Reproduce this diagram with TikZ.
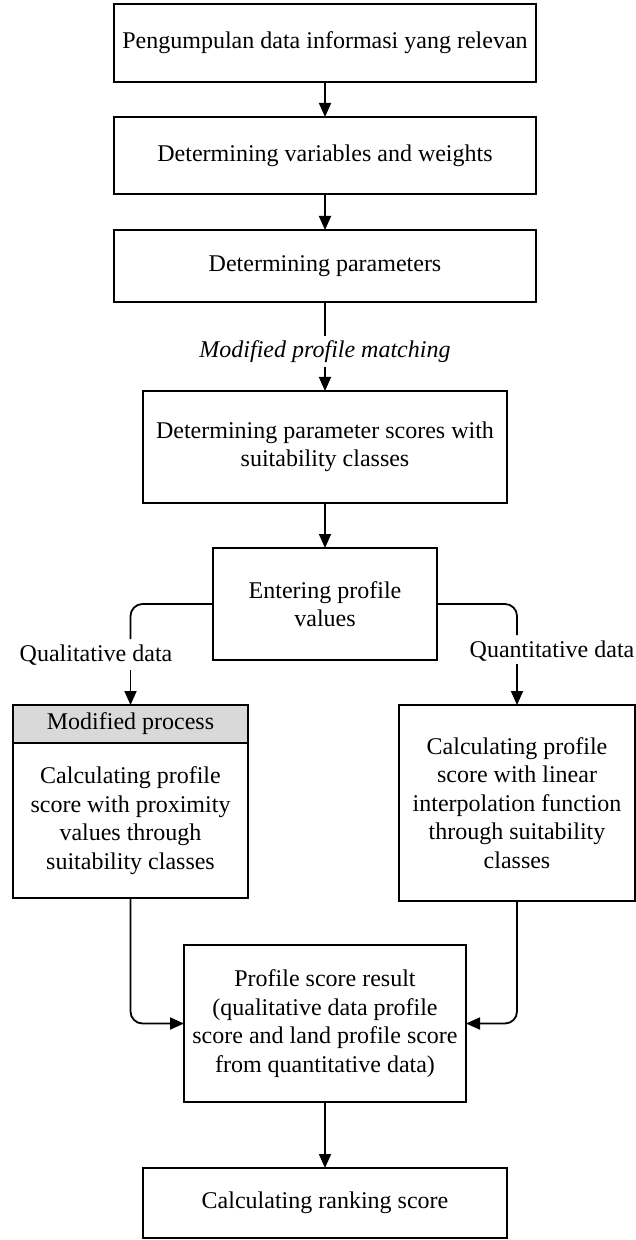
\documentclass[tikz,border=0pt]{standalone}
\usepackage{fontspec}
\setmainfont{Liberation Serif}
\usetikzlibrary{arrows.meta}
\definecolor{hdrgray}{HTML}{D9D9D9}
\tikzset{
  box/.style={draw, line width=0.8pt, inner sep=0pt, outer sep=0pt, align=center,
    font=\fontsize{12}{14.25}\selectfont},
  lbl/.style={inner sep=0pt, font=\fontsize{12}{14.25}\selectfont},
  conn/.style={line width=0.9pt},
  arr/.style={line width=0.9pt, -{Triangle[width=6pt,length=7pt]}},
}
\begin{document}
\begin{tikzpicture}[x=0.5pt,y=-0.5pt]
\useasboundingbox (0,0) rectangle (636,1240);
\node[box, minimum width=211pt, minimum height=39pt] (b1) at (325,43) {Pengumpulan data informasi yang relevan};
\node[box, minimum width=211pt, minimum height=38.5pt] (b2) at (325,155.5) {Determining variables and weights};
\node[box, minimum width=211pt, minimum height=36pt] (b3) at (325,266) {Determining parameters};
\node[lbl, font=\fontsize{12}{14.25}\selectfont\itshape] (mpm) at (325,352) {Modified profile matching};
\coordinate (m1) at (325,336);
\coordinate (m2) at (325,367);
\node[box, minimum width=182pt, minimum height=56pt] (b4) at (325,447) {Determining parameter scores with\\suitability classes};
\node[box, minimum width=112pt, minimum height=56pt] (b5) at (325,604) {Entering profile\\values};
\node[lbl] (ql) at (96,655) {Qualitative data};
\node[lbl] (qt) at (552,651) {Quantitative data};
\coordinate (q1) at (130.5,639);
\coordinate (q2) at (130.5,670);
\coordinate (r1) at (517,635);
\coordinate (r2) at (517,664);
\node[box, fill=hdrgray, minimum width=117.5pt, minimum height=19pt] (hdr) at (130.5,724) {Modified process};
\node[box, minimum width=117.5pt, minimum height=77.5pt] (lb) at (130.5,820.5) {Calculating profile\\score with proximity\\values through\\suitability classes};
\node[box, minimum width=118pt, minimum height=98pt] (rb) at (517,803) {Calculating profile\\score with linear\\interpolation function\\through suitability\\classes};
\node[box, minimum width=141pt, minimum height=78.5pt] (b6) at (325,1023.5) {Profile score result\\(qualitative data profile\\score and land profile score\\from quantitative data)};
\node[box, minimum width=182pt, minimum height=35pt] (b7) at (325,1203) {\raisebox{-2pt}{Calculating ranking score}};
\draw[arr] (b1) -- (b2);
\draw[arr] (b2) -- (b3);
\draw[conn] (b3.south) -- (m1);
\draw[arr] (m2) -- (b4.north);
\draw[arr] (b4) -- (b5);
\draw[conn, rounded corners=6pt] (b5.west) -| (q1);
\draw[arr] (q2) -- (hdr.north);
\draw[conn, rounded corners=6pt] (b5.east) -| (r1);
\draw[arr] (r2) -- (rb.north);
\draw[arr, rounded corners=6pt] (lb.south) |- (b6.west);
\draw[arr, rounded corners=6pt] (rb.south) |- (b6.east);
\draw[arr] (b6) -- (b7);
\end{tikzpicture}
\end{document}
